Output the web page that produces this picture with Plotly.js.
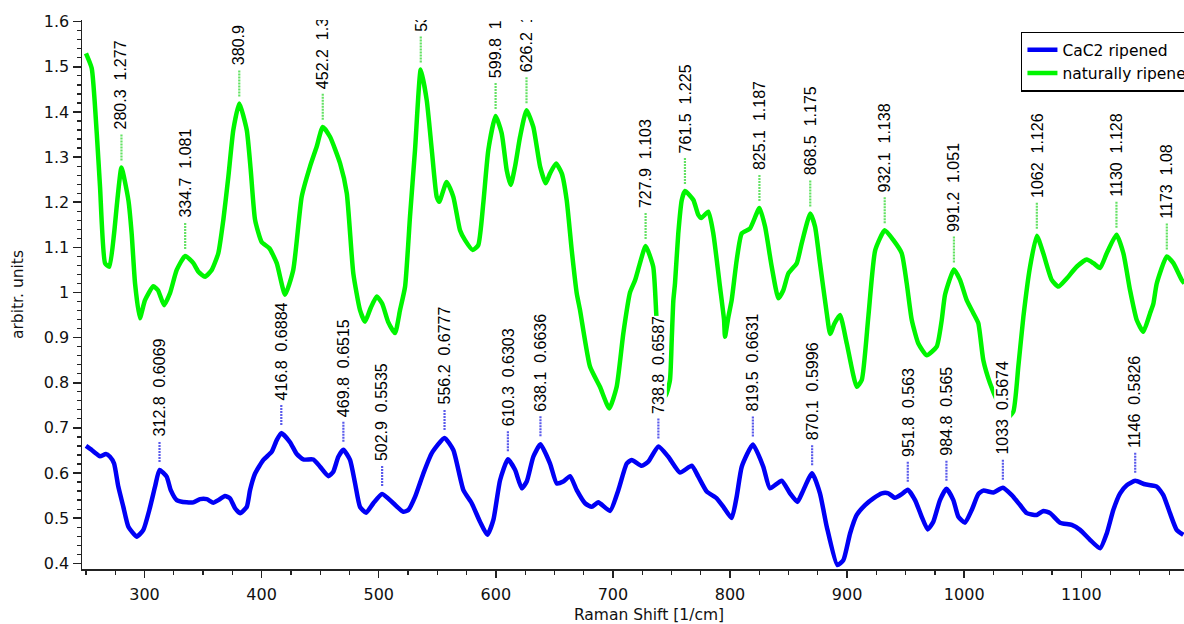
<!DOCTYPE html>
<html>
<head>
<meta charset="utf-8">
<script src="https://cdn.plot.ly/plotly-3.0.1.min.js"></script>
<style>
html,body{margin:0;padding:0;overflow:hidden;background:#fff;}
#chart{width:1216px;height:624px;}
</style>
</head>
<body>
<div id="chart"></div>
<script>
// ---- Data ----
const seriesNames = ["CaC2 ripened", "naturally ripened"];

const blueX = [250,254.9,259.2,262,267,270.5,274,277.6,281.9,286.2,293.3,299,304.1,309,312.8,318.9,322.4,327.5,336,341.7,347.4,353.1,358.8,363,368.7,373,377.3,381.6,387.3,390.1,394.4,401.5,408.6,412.9,416.8,424.3,430,435.6,444.2,449.9,457,461.2,465.5,469.8,475.5,479.8,484,489.2,495.4,502.9,512.5,521,525.3,531,538.1,545.3,556.2,563.7,572.3,579.4,586.5,592.7,597.9,603.6,610.3,616.4,622.1,626.4,632,638.1,646.3,652,657.6,663.4,669.1,676.2,681.9,687.5,697.5,704.6,711.8,716,724.6,730.2,738.8,747.3,757.3,767.3,772.9,780.1,788.6,794.3,801.4,805.7,810,819.5,828.4,834.1,844.1,851.2,857.5,862.6,870.1,876.8,882.6,891.6,896.8,902.5,908.2,915.3,922.4,929.6,935.2,940.9,946.6,951.8,958,963.7,968.8,973.6,979.3,984.8,990.7,995,1000.7,1006.4,1012,1016.3,1024.9,1033,1040.6,1047.7,1053.4,1061.9,1067.5,1073.3,1081.8,1091.8,1098.9,1107.4,1116,1121.7,1127.3,1133.1,1138.8,1146,1154.4,1164.4,1170,1175.7,1181.4,1187.1];
const blueY = [0.660,0.651,0.642,0.637,0.642,0.636,0.621,0.570,0.525,0.481,0.459,0.474,0.518,0.570,0.6069,0.592,0.562,0.540,0.535,0.535,0.542,0.542,0.534,0.540,0.549,0.544,0.522,0.511,0.525,0.562,0.599,0.629,0.647,0.673,0.6884,0.668,0.642,0.630,0.630,0.614,0.593,0.603,0.636,0.6515,0.629,0.577,0.525,0.512,0.533,0.5535,0.533,0.514,0.518,0.547,0.599,0.644,0.6777,0.651,0.562,0.533,0.492,0.463,0.496,0.584,0.6303,0.607,0.566,0.581,0.636,0.6636,0.621,0.577,0.581,0.593,0.562,0.533,0.525,0.535,0.516,0.562,0.621,0.629,0.616,0.625,0.6587,0.636,0.601,0.616,0.592,0.559,0.544,0.525,0.500,0.548,0.614,0.6631,0.614,0.566,0.583,0.555,0.536,0.562,0.5996,0.555,0.481,0.396,0.407,0.466,0.507,0.529,0.544,0.555,0.555,0.545,0.553,0.563,0.540,0.503,0.475,0.492,0.540,0.565,0.540,0.503,0.490,0.518,0.553,0.561,0.557,0.5674,0.551,0.529,0.511,0.507,0.516,0.511,0.490,0.485,0.474,0.452,0.433,0.466,0.518,0.555,0.573,0.5826,0.575,0.570,0.551,0.511,0.474,0.463];

const greenX = [250,254.9,259.2,262,266.3,270,274,276.8,280.3,286.2,289,291.9,296,300.4,307.5,311.5,316.7,321.8,327.5,334.7,341.7,346,351.7,357.4,363,367.3,371.6,375.8,380.9,387.3,390.7,394.4,400,406.6,412.9,420,427,434.2,441.3,447,452.2,458.4,467,472.7,478.3,484,488.3,493,498.3,503,508,513.9,518.2,522.5,526.7,531,535.9,541,545.3,549.5,551.7,558,563.7,569.4,573.7,580.3,585,589.3,593.6,599.8,605,609.3,612.7,616.4,620.7,626.2,632,637.8,642.6,646.3,651.4,656.3,660.5,664.8,669.1,671.9,680.4,688.9,696.9,703.2,708.9,714.6,718.9,723.1,727.9,734.4,737.3,741,745,748.7,750.2,751.6,753,755.8,758.8,761.5,768.7,772.9,775.5,781.5,785.7,791.4,794.9,795.7,798.6,801.4,805.7,810,817.1,825.1,829.9,835.6,841.3,845.5,849.8,857,861.2,868.5,872.6,876.8,882.6,885.5,889,893.9,899.7,908.2,912.5,918.1,924,932.1,939.5,946.6,950.9,955.2,960.8,968,976.5,980.8,983.6,991.2,996.4,1002.1,1007.8,1012,1016.3,1022,1029,1036,1041.9,1046.2,1050.5,1056.2,1062,1067.5,1074.7,1080.4,1087.5,1096,1104.6,1110.3,1116,1121.7,1130,1135.9,1141.6,1147.3,1152.9,1158.7,1161.5,1164.4,1173,1178.6,1185.7,1188];
const greenY = [1.530,1.497,1.353,1.234,1.065,1.057,1.131,1.205,1.277,1.205,1.131,1.020,0.943,0.983,1.014,1.005,0.972,0.999,1.050,1.081,1.065,1.046,1.035,1.050,1.087,1.161,1.257,1.360,1.419,1.360,1.271,1.161,1.112,1.098,1.065,0.995,1.050,1.212,1.279,1.323,1.367,1.345,1.286,1.220,1.042,0.961,0.935,0.965,0.991,0.975,0.935,0.910,0.961,1.013,1.168,1.316,1.494,1.426,1.316,1.212,1.201,1.245,1.212,1.138,1.116,1.094,1.105,1.198,1.316,1.391,1.353,1.271,1.238,1.279,1.345,1.404,1.367,1.279,1.242,1.264,1.286,1.264,1.205,1.094,0.998,0.961,0.836,0.791,0.743,0.791,0.910,1.000,1.027,1.065,1.103,1.057,0.939,0.830,0.770,0.806,0.895,0.983,1.020,1.131,1.205,1.225,1.205,1.172,1.165,1.179,1.131,1.013,0.939,0.902,0.946,0.983,1.072,1.131,1.142,1.187,1.146,1.057,0.987,1.005,1.042,1.065,1.109,1.175,1.146,1.065,0.954,0.908,0.930,0.950,0.887,0.791,0.806,0.946,1.094,1.138,1.116,1.087,1.020,0.939,0.887,0.861,0.880,0.939,0.995,1.051,1.028,0.983,0.954,0.932,0.850,0.799,0.755,0.720,0.736,0.836,0.946,1.057,1.126,1.087,1.028,1.013,1.031,1.057,1.073,1.065,1.054,1.087,1.128,1.087,1.005,0.939,0.913,0.954,0.975,1.020,1.080,1.065,1.028,1.020];

// Peak labels
const bluePeakX = [312.8,416.8,469.8,502.9,556.2,610.3,638.1,738.8,819.5,870.1,951.8,984.8,1033,1146];
const bluePeakY = [0.6069,0.6884,0.6515,0.5535,0.6777,0.6303,0.6636,0.6587,0.6631,0.5996,0.563,0.565,0.5674,0.5826];
const greenPeakX = [280.3,334.7,380.9,452.2,535.9,599.8,626.2,727.9,761.5,825.1,868.5,932.1,991.2,1062,1130,1173];
const greenPeakY = [1.277,1.081,1.419,1.367,1.494,1.391,1.404,1.103,1.225,1.187,1.175,1.138,1.051,1.126,1.128,1.08];

const xTickVals = [300,400,500,600,700,800,900,1000,1100,1200];
const yTickVals = [0.4,0.5,0.6,0.7,0.8,0.9,1.0,1.1,1.2,1.3,1.4,1.5,1.6];

// ---- Styling ----
const BLUE = "rgb(0,0,245)";
const GREEN = "rgb(0,245,0)";
const BLUE_TICK = "rgb(90,90,235)";
const GREEN_TICK = "rgb(100,225,100)";
const TICKFONT = "DejaVu Sans, Verdana, sans-serif";
const LABELFONT = "Liberation Sans, Arial, sans-serif";

function fmt(v){ return String(Number(v.toPrecision(4))); }

const traces = [
  {x: blueX, y: blueY, name: seriesNames[0], type: "scatter", mode: "lines",
   line: {color: BLUE, width: 4.5, shape: "spline", smoothing: 0.5}},
  {x: greenX, y: greenY, name: seriesNames[1], type: "scatter", mode: "lines",
   line: {color: GREEN, width: 4.5, shape: "spline", smoothing: 0.5}}
];

const shapes = [];
const annotations = [];
function addPeaks(px, py, tickColor, lineFrom, lineTo, textShift){
  for(let i=0;i<px.length;i++){
    shapes.push({type:"line", xref:"x", yref:"y", x0:px[i], x1:px[i],
      ysizemode:"pixel", yanchor:py[i], y0:lineFrom, y1:lineTo,
      line:{color:tickColor, width:2.2, dash:"2px,1px"}});
    annotations.push({x:px[i], y:py[i], xref:"x", yref:"y", showarrow:false,
      text: fmt(px[i]) + "\u00a0\u00a0" + fmt(py[i]), textangle:-90,
      xanchor:"center", yanchor:"bottom", yshift:textShift,
      bgcolor:"white", borderpad:0, borderwidth:0,
      font:{family:LABELFONT, size:16, color:"#000"}});
  }
}
addPeaks(bluePeakX, bluePeakY, BLUE_TICK, 8, 28, 33);
addPeaks(greenPeakX, greenPeakY, GREEN_TICK, 7, 33, 38);

// legend shadow
shapes.push({type:"rect", xref:"paper", yref:"paper", x0:0.8307, x1:1.2, y0:0.872, y1:0.972,
  fillcolor:"black", line:{width:0}, layer:"above"});

// cover above plot area (labels are clipped at the plot top in the reference)
annotations.push({xref:"paper", yref:"paper", x:0, y:1, xanchor:"left", yanchor:"bottom",
  text:"\u00a0", showarrow:false, width:1200, height:20, bgcolor:"white", borderpad:0, borderwidth:0});

const layout = {
  width: 1216, height: 624,
  margin: {l: 82, r: 0, t: 20, b: 55},
  paper_bgcolor: "white", plot_bgcolor: "white",
  showlegend: true,
  legend: {x: 0.828, y: 0.9787, xanchor: "left", yanchor: "top",
    bgcolor: "white", bordercolor: "black", borderwidth: 1.5,
    font: {family: TICKFONT, size: 15.5, color: "#000"}},
  xaxis: {range: [246.6, 1215], showgrid: false, zeroline: false,
    showline: true, linecolor: "#222", linewidth: 1.5,
    ticks: "outside", ticklen: 7, tickwidth: 1.5, tickcolor: "#222",
    tickmode: "array", tickvals: xTickVals, ticklabelstandoff: 3,
    minor: {dtick: 25, ticks: "outside", ticklen: 4, tickwidth: 1.2, tickcolor: "#222", showgrid:false},
    tickfont: {family: TICKFONT, size: 16, color: "#111"},
    title: {text: "Raman Shift [1/cm]", font: {family: TICKFONT, size: 15.5, color: "#111"}, standoff: 6}},
  yaxis: {range: [0.3873, 1.6038], showgrid: false, zeroline: false,
    showline: true, linecolor: "#222", linewidth: 1.5,
    ticks: "outside", ticklen: 8, tickwidth: 1.5, tickcolor: "#222",
    tickmode: "array", tickvals: yTickVals,
    minor: {dtick: 0.02, ticks: "outside", ticklen: 4, tickwidth: 1.2, tickcolor: "#222", showgrid:false},
    tickfont: {family: TICKFONT, size: 16, color: "#111"},
    title: {text: "arbitr. units", font: {family: TICKFONT, size: 15.5, color: "#111"}, standoff: 16}},
  shapes: shapes,
  annotations: annotations
};

Plotly.newPlot("chart", traces, layout, {displayModeBar: false, staticPlot: true});
</script>
</body>
</html>
